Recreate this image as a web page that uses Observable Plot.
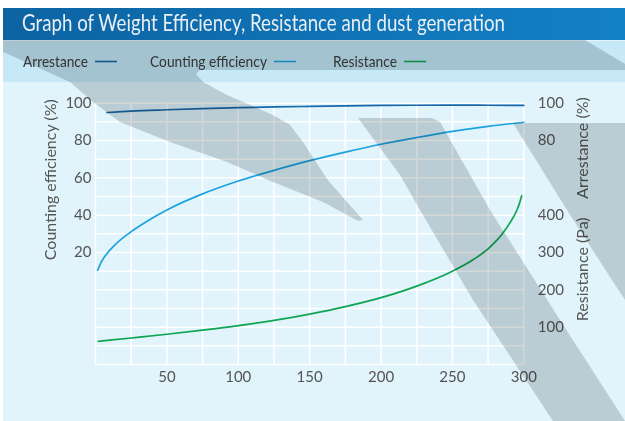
<!DOCTYPE html>
<html><head><meta charset="utf-8">
<script src="https://cdn.jsdelivr.net/npm/d3@7"></script>
<script src="https://cdn.jsdelivr.net/npm/@observablehq/plot@0.6"></script>
<style>
body{margin:0;background:#fff;}
#wrap{position:relative;width:625px;height:421px;overflow:hidden;font-family:Lato,"Open Sans",sans-serif;}
#main{position:absolute;left:3px;top:82px;width:622px;height:339px;background:#e1f3fb;}
#titlebar{position:absolute;left:3px;top:8px;width:622px;height:32px;background:linear-gradient(90deg,#0c63a2,#1381c6);}
#legendbar{position:absolute;left:3px;top:40px;width:622px;height:42px;background:#c6e8f7;border-top:1px solid #e3f3fb;box-sizing:border-box;}
#chart{position:absolute;left:0;top:82px;}
#head{position:absolute;left:0;top:0;}
#deco{position:absolute;left:0;top:0;mix-blend-mode:multiply;pointer-events:none;}
</style>
</head><body>
<div id="wrap">
  <div id="titlebar"></div>
  <div id="legendbar"></div>
  <div id="main"></div>
  <div id="chart"></div>
  <svg id="head" width="625" height="82"></svg>
  <svg id="deco" width="625" height="421"></svg>
</div>
<script>
// ---- data ----
const titleText = "Graph of Weight Efficiency, Resistance and dust generation";
const seriesNames = ["Arrestance", "Counting efficiency", "Resistance"];
const seriesColors = ["#1767a9", "#1ba3e0", "#0ea552"];

// Arrestance (%) vs dust load
const arrX = [8, 25, 50, 75, 100, 125, 150, 175, 200, 225, 250, 275, 300];
const arrV = [95.0, 95.8, 96.5, 97.1, 97.6, 98.0, 98.3, 98.6, 98.8, 98.9, 99.0, 98.9, 98.8];

// Counting efficiency (%)
const ceX = [1.5, 4, 8, 15, 25, 37, 50, 75, 100, 125, 150, 175, 200, 225, 250, 275, 300];
const ceV = [10.5, 14.8, 19.4, 25.1, 31.2, 37.2, 42.8, 51.4, 58.3, 64, 69.2, 73.8, 78, 81.6, 84.9, 87.6, 89.8];

// Resistance (Pa)
const resX = [2, 25, 50, 75, 100, 125, 150, 175, 200, 225, 250, 265, 275, 285, 290, 295, 297, 298.5];
const resV = [62, 71, 81, 92, 104, 118, 135, 155, 179, 210, 250, 282, 310, 350, 378, 412, 432, 452];

// ticks
const xTicks = [50, 100, 150, 200, 250, 300];
const leftTicks = [20, 40, 60, 80, 100];
const arrestTicks = [100, 80];
const resistTicks = [400, 300, 200, 100];
const xGrid = d3.range(0, 301, 25);
const yGrid = d3.range(-40, 101, 10);

// shared y scale in % units; resistance mapped: 0 Pa -> -40, 700 Pa -> 100
const paToY = p => p / 5 - 40;
const yToPa = v => Math.round((v + 40) * 5);

const rows = (xs, vs, f = v => v) => xs.map((x, i) => ({x, y: f(vs[i])}));

const font = 'Lato, "Open Sans", sans-serif';
const plot = Plot.plot({
  width: 625, height: 339,
  marginLeft: 95, marginRight: 101.7, marginTop: 20.7, marginBottom: 57,
  x: {domain: [0, 300]},
  y: {domain: [-40, 100]},
  style: {background: "transparent", fontFamily: font, fontSize: "15px", color: "#555"},
  marks: [
    Plot.gridX(xGrid, {stroke: "#fff", strokeOpacity: 1, strokeWidth: 1.5}),
    Plot.gridY(yGrid, {stroke: "#fff", strokeOpacity: 1, strokeWidth: 1.5}),
    Plot.axisX(xTicks, {tickSize: 0, tickPadding: 7, label: null, fontSize: 15}),
    Plot.axisY(leftTicks, {anchor: "left", tickSize: 0, tickPadding: 4, label: null, fontSize: 15}),
    Plot.axisY([...arrestTicks, ...resistTicks.map(paToY)], {
      anchor: "right", tickSize: 0, tickPadding: 14, label: null, fontSize: 15,
      tickFormat: v => v >= 60 ? String(v) : String(yToPa(v))
    }),
    Plot.text(["Counting efficiency (%)"], {text: d => d, y: () => 59, frameAnchor: "left", textAnchor: "middle", dx: -45, rotate: -90, fontSize: 16, fill: "#555"}),
    Plot.text(["Arrestance (%)"], {text: d => d, y: () => 76, frameAnchor: "right", textAnchor: "middle", dx: 59, rotate: -90, fontSize: 16, fill: "#555"}),
    Plot.text(["Resistance (Pa)"], {text: d => d, y: () => 11, frameAnchor: "right", textAnchor: "middle", dx: 59, rotate: -90, fontSize: 16, fill: "#555"}),
    Plot.line(rows(resX, resV, paToY), {x: "x", y: "y", stroke: seriesColors[2], strokeWidth: 1.7, curve: "monotone-x"}),
    Plot.line(rows(ceX, ceV), {x: "x", y: "y", stroke: seriesColors[1], strokeWidth: 1.7, curve: "monotone-x"}),
    Plot.line(rows(arrX, arrV), {x: "x", y: "y", stroke: seriesColors[0], strokeWidth: 1.7, curve: "monotone-x"})
  ]
});
document.getElementById("chart").appendChild(plot);

// ---- title & legend ----
const head = d3.select("#head");
head.append("text").attr("x", 22).attr("y", 31)
  .attr("font-family", font).attr("font-size", 23).attr("fill", "#e8eff5")
  .attr("textLength", 483).attr("lengthAdjust", "spacingAndGlyphs")
  .text(titleText);
const legX = [23, 150, 333];
const legW = [65, 117, 64];
seriesNames.forEach((name, i) => {
  head.append("text").attr("x", legX[i]).attr("y", 66.5)
    .attr("font-family", font).attr("font-size", 16).attr("fill", "#3c3c3c")
    .attr("textLength", legW[i]).attr("lengthAdjust", "spacingAndGlyphs")
    .text(name);
  const x0 = legX[i] + legW[i] + 7;
  head.append("line").attr("x1", x0).attr("x2", x0 + 22).attr("y1", 61.5).attr("y2", 61.5)
    .attr("stroke", seriesColors[i]).attr("stroke-width", 1.6);
});

// ---- decorative diagonal shadows (background artwork) ----
const shadowFill = "#d4d7d8";
const shadows = [
  "3,40 585,40 625,64 625,70 200,70 196,74 203,82 227,95 273,115 290,125 303,142 327,179 347,202 363,220 358,221 323,202 273,182 227,162 170,142 120,122 93,102 70,82 10,55 3,52",
  "358,118 432,118 440,122 490,210 560,320 625,421 553,421 473,300 420,210 400,175",
  "513,123 625,123 625,300 610,277 567,210"
];
const deco = d3.select("#deco");
shadows.forEach(p => deco.append("polygon").attr("points", p).attr("fill", shadowFill));
</script>
</body></html>
